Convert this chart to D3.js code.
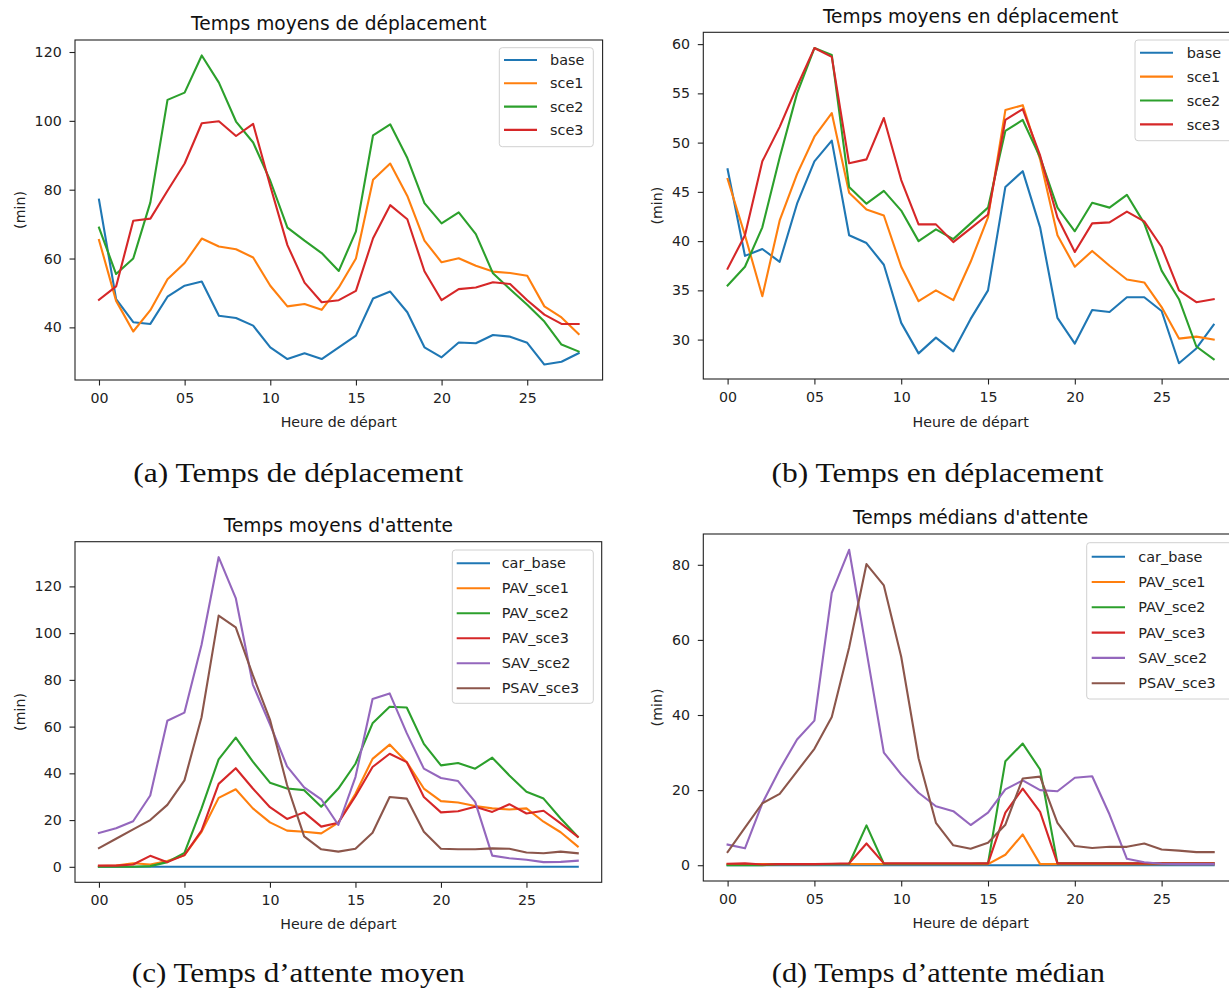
<!DOCTYPE html>
<html><head><meta charset="utf-8">
<script src="https://cdn.jsdelivr.net/npm/d3@7"></script>
<style>body{margin:0;background:#fff}svg{display:block}</style>
</head><body><svg id="chart" width="1229" height="991"></svg>
<script>
// ---------- DATA ----------
const hours = [0,1,2,3,4,5,6,7,8,9,10,11,12,13,14,15,16,17,18,19,20,21,22,23,24,25,26,27,28];
const xTickValues = [0,5,10,15,20,25];
const xTickLabels = ["00","05","10","15","20","25"];

// (a) Temps moyens de déplacement
const aSeriesNames = ["base","sce1","sce2","sce3"];
const a_base = [77.1,48.2,41.5,41.0,48.9,52.1,53.3,43.4,42.7,40.5,34.2,30.8,32.5,30.8,34.2,37.6,48.4,50.4,44.4,34.2,31.3,35.6,35.4,37.8,37.3,35.5,29.2,30.0,32.5];
const a_sce1 = [65.4,47.7,38.8,45.0,54.0,58.7,65.8,63.5,62.7,60.3,52.1,46.1,46.8,45.1,51.6,60.0,82.9,87.6,78.2,65.2,58.9,60.1,57.9,56.2,55.8,55.0,46.1,42.9,38.1];
const a_sce2 = [69.0,55.5,60.0,76.3,106.1,108.2,119.0,111.1,99.8,93.7,82.6,69.0,65.2,61.6,56.4,67.9,95.8,99.0,89.2,76.1,70.2,73.4,67.1,55.7,51.1,46.6,41.7,35.0,33.0];
const a_sce3 = [48.0,51.9,71.0,71.6,79.7,87.6,99.3,99.9,95.6,99.1,81.1,63.9,53.0,47.3,47.9,50.6,65.9,75.5,71.4,56.3,47.9,51.1,51.6,53.1,52.6,47.9,43.7,41.0,41.0];
const aYTicks = [40,60,80,100,120];

// (b) Temps moyens en déplacement
const bSeriesNames = ["base","sce1","sce2","sce3"];
const b_base = [47.3,38.5,39.2,37.9,43.8,48.1,50.2,40.6,39.8,37.6,31.7,28.6,30.2,28.8,32.1,35.0,45.5,47.1,41.4,32.2,29.6,33.0,32.8,34.3,34.3,32.9,27.6,29.1,31.5];
const b_sce1 = [46.3,40.6,34.4,42.1,46.8,50.6,53.0,44.9,43.2,42.6,37.4,33.9,35.0,34.0,37.9,42.4,53.3,53.8,48.3,40.6,37.4,39.0,37.5,36.1,35.8,33.3,30.1,30.3,30.0];
const b_sce2 = [35.5,37.4,41.4,48.5,55.0,59.6,58.9,45.5,43.8,45.1,43.1,40.0,41.2,40.2,41.8,43.4,51.2,52.3,48.5,43.4,41.0,43.9,43.4,44.7,41.8,37.0,34.1,29.3,28.0];
const b_sce3 = [37.2,40.6,48.1,51.6,55.7,59.6,58.7,47.9,48.3,52.5,46.2,41.7,41.7,39.9,41.3,42.7,52.3,53.4,48.7,42.4,38.9,41.8,41.9,43.0,42.0,39.4,35.0,33.8,34.1];
const bYTicks = [30,35,40,45,50,55,60];

// (c) Temps moyens d'attente
const cSeriesNames = ["car_base","PAV_sce1","PAV_sce2","PAV_sce3","SAV_sce2","PSAV_sce3"];
const c_car_base  = [0,0,0,0,0,0,0,0,0,0,0,0,0,0,0,0,0,0,0,0,0,0,0,0,0,0,0,0,0];
const c_PAV_sce1  = [0.3,0.5,1.5,1.0,2.5,5.0,15.0,29.5,33.2,25.0,19.0,15.5,15.0,14.3,18.9,31.3,46.2,52.3,44.8,33.5,28.1,27.5,26.0,25.0,24.5,25.0,19.3,14.8,8.7];
const c_PAV_sce2  = [0.0,0.0,0.0,0.3,2.0,6.0,25.0,46.0,55.3,45.0,36.0,33.5,32.8,25.7,33.5,44.1,61.4,68.5,68.2,52.6,43.4,44.4,42.0,46.7,39.1,32.1,29.2,20.7,12.9];
const c_PAV_sce3  = [0.5,0.5,1.0,4.7,2.0,5.0,15.5,35.5,42.2,33.5,25.5,20.5,23.3,17.2,18.9,30.2,42.7,48.4,44.8,29.9,23.3,23.8,25.7,23.5,26.8,22.8,24.0,18.6,12.9];
const c_SAV_sce2  = [14.5,16.5,19.5,30.5,62.5,66.0,95.0,132.5,115.0,78.0,61.0,43.0,34.0,28.9,17.9,38.4,71.8,74.2,57.2,42.0,38.0,36.7,27.8,4.8,3.7,3.0,2.0,2.1,2.6];
const c_PSAV_sce3 = [8.0,12.0,16.0,20.0,26.5,37.0,64.0,107.5,102.5,82.0,63.0,35.0,13.0,7.5,6.5,7.7,14.6,29.9,29.2,15.0,7.7,7.5,7.5,7.9,7.7,6.1,5.8,6.5,5.8];
const cYTicks = [0,20,40,60,80,100,120];

// (d) Temps médians d'attente
const dSeriesNames = ["car_base","PAV_sce1","PAV_sce2","PAV_sce3","SAV_sce2","PSAV_sce3"];
const d_car_base  = [0,0,0,0,0,0,0,0,0,0,0,0,0,0,0,0,0,0,0,0,0,0,0,0,0,0,0,0,0];
const d_PAV_sce1  = [0.3,0.3,0.3,0.3,0.3,0.3,0.3,0.3,0.3,0.3,0.3,0.3,0.3,0.3,0.3,0.3,2.8,8.2,0.3,0.3,0.3,0.3,0.3,0.3,0.3,0.3,0.3,0.3,0.3];
const d_PAV_sce2  = [0.0,0.0,0.0,0.3,0.3,0.3,0.3,0.4,10.6,0.4,0.4,0.4,0.4,0.4,0.4,0.5,27.7,32.4,25.5,0.5,0.5,0.5,0.5,0.5,0.5,0.5,0.5,0.5,0.5];
const d_PAV_sce3  = [0.4,0.5,0.2,0.3,0.3,0.3,0.4,0.5,5.8,0.5,0.5,0.5,0.5,0.5,0.5,0.5,14.0,20.4,14.2,0.5,0.5,0.5,0.5,0.5,0.5,0.5,0.5,0.5,0.5];
const d_SAV_sce2  = [5.5,4.5,16.5,25.5,33.5,38.5,72.5,84.0,57.0,30.0,24.2,19.3,15.7,14.4,10.7,14.0,20.2,22.6,20.0,19.7,23.3,23.7,13.5,1.7,0.8,0.4,0.3,0.3,0.3];
const d_PSAV_sce3 = [3.5,10.0,16.5,19.0,25.0,31.0,39.5,58.0,80.2,74.5,55.5,28.5,11.3,5.3,4.4,6.0,10.8,23.1,23.6,11.3,5.1,4.6,4.9,4.9,5.8,4.2,3.9,3.5,3.5];
const dYTicks = [0,20,40,60,80];

const titles = ["Temps moyens de déplacement","Temps moyens en déplacement","Temps moyens d'attente","Temps médians d'attente"];
const captions = ["(a) Temps de déplacement","(b) Temps en déplacement","(c) Temps d’attente moyen","(d) Temps d’attente médian"];
const xLabel = "Heure de départ";
const yLabel = "(min)";

// ---------- STYLE / LAYOUT ----------
const colors = ["#1f77b4","#ff7f0e","#2ca02c","#d62728","#9467bd","#8c564b"];
const FONT = "DejaVu Sans, sans-serif";

const panels = [
  {names:aSeriesNames, data:[a_base,a_sce1,a_sce2,a_sce3], yTicks:aYTicks, title:titles[0], caption:captions[0],
   box:[75,40,602.6,380], titleY:30, ylabX:20, xlabY:426.7,
   leg:{x:499.3,y:47.7,w:94,h:99,y0:60,step:23.3,l0:504,l1:537,tx:550},
   cap:{x:298.3,y:481.7,w:330}},
  {names:bSeriesNames, data:[b_base,b_sce1,b_sce2,b_sce3], yTicks:bYTicks, title:titles[1], caption:captions[1],
   box:[703.3,32.3,1238,379], titleY:22.7, ylabX:656.7, xlabY:426.7,
   leg:{x:1135,y:40,w:100,h:100.7,y0:52.7,step:23.9,l0:1140,l1:1173,tx:1186.7},
   cap:{x:937.5,y:481.7,w:332}},
  {names:cSeriesNames, data:[c_car_base,c_PAV_sce1,c_PAV_sce2,c_PAV_sce3,c_SAV_sce2,c_PSAV_sce3], yTicks:cYTicks, title:titles[2], caption:captions[2],
   box:[75,541.7,601.7,882.3], titleY:532.3, ylabX:20, xlabY:929,
   leg:{x:452.3,y:550,w:141,h:153.3,y0:563.3,step:25,l0:456.7,l1:490,tx:501.7},
   cap:{x:298.3,y:981.7,w:333}},
  {names:dSeriesNames, data:[d_car_base,d_PAV_sce1,d_PAV_sce2,d_PAV_sce3,d_SAV_sce2,d_PSAV_sce3], yTicks:dYTicks, title:titles[3], caption:captions[3],
   box:[703.3,534,1238,881], titleY:524.3, ylabX:656.7, xlabY:928.3,
   leg:{x:1086.7,y:542.7,w:150,h:156.3,y0:556.7,step:25.3,l0:1091.7,l1:1125,tx:1138.3},
   cap:{x:938.3,y:981.7,w:333}}
];

const svg = d3.select("#chart");

function padded(ext){ const p=(ext[1]-ext[0])*0.05; return [ext[0]-p, ext[1]+p]; }

panels.forEach(P => {
  const [x0,y0,x1,y1] = P.box;
  const x = d3.scaleLinear().domain(padded(d3.extent(hours))).range([x0,x1]);
  const allVals = P.data.flat();
  const y = d3.scaleLinear().domain(padded(d3.extent(allVals))).range([y1,y0]);
  const g = svg.append("g");

  // lines
  const line = d3.line().x((d,i)=>x(hours[i])).y(d=>y(d));
  P.data.forEach((vals,k)=>{
    g.append("path").datum(vals).attr("d",line)
      .attr("fill","none").attr("stroke",colors[k]).attr("stroke-width",2.1)
      .attr("stroke-linejoin","round").attr("stroke-linecap","square");
  });

  // axes
  const xa = g.append("g").attr("transform",`translate(0,${y1})`)
    .call(d3.axisBottom(x).tickValues(xTickValues).tickFormat((d,i)=>xTickLabels[i]).tickSize(5.5).tickPadding(7.3));
  const ya = g.append("g").attr("transform",`translate(${x0},0)`)
    .call(d3.axisLeft(y).tickValues(P.yTicks).tickFormat(d3.format("d")).tickSize(5.5).tickPadding(7.8));
  [xa,ya].forEach(a=>{
    a.select(".domain").remove();
    a.selectAll(".tick line").attr("stroke","#222").attr("stroke-width",1.1);
    a.selectAll(".tick text").attr("fill","#222").style("font-family",FONT).style("font-size","14.2px");
  });

  // frame
  g.append("rect").attr("x",x0).attr("y",y0).attr("width",x1-x0).attr("height",y1-y0)
    .attr("fill","none").attr("stroke","#222").attr("stroke-width",1.1);

  // title & labels
  g.append("text").attr("x",(x0+x1)/2).attr("y",P.titleY).attr("text-anchor","middle")
    .style("font-family",FONT).style("font-size","18.6px").attr("fill","#111").text(P.title);
  g.append("text").attr("x",(x0+x1)/2).attr("y",P.xlabY).attr("text-anchor","middle")
    .style("font-family",FONT).style("font-size","14.2px").attr("fill","#222").text(xLabel);
  g.append("text").attr("transform",`translate(${P.ylabX},${(y0+y1)/2}) rotate(-90)`).attr("dy","0.35em")
    .attr("text-anchor","middle").style("font-family",FONT).style("font-size","14.2px").attr("fill","#222").text(yLabel);

  // legend
  const L = P.leg;
  g.append("rect").attr("x",L.x).attr("y",L.y).attr("width",L.w).attr("height",L.h).attr("rx",3)
    .attr("fill","#fff").attr("fill-opacity",0.8).attr("stroke","#d0d0d0").attr("stroke-width",1);
  P.names.forEach((n,k)=>{
    const yy = L.y0 + k*L.step;
    g.append("line").attr("x1",L.l0).attr("x2",L.l1).attr("y1",yy).attr("y2",yy)
      .attr("stroke",colors[k]).attr("stroke-width",2.1);
    g.append("text").attr("x",L.tx).attr("y",yy).attr("dy","0.36em")
      .style("font-family",FONT).style("font-size","14.4px").attr("fill","#222").text(n);
  });

  // caption
  svg.append("text").attr("x",P.cap.x).attr("y",P.cap.y).attr("text-anchor","middle")
    .attr("textLength",P.cap.w).attr("lengthAdjust","spacingAndGlyphs")
    .style("font-family","'Liberation Serif', serif").style("font-size","27px").attr("fill","#111").text(P.caption);
});
</script>
</body></html>
